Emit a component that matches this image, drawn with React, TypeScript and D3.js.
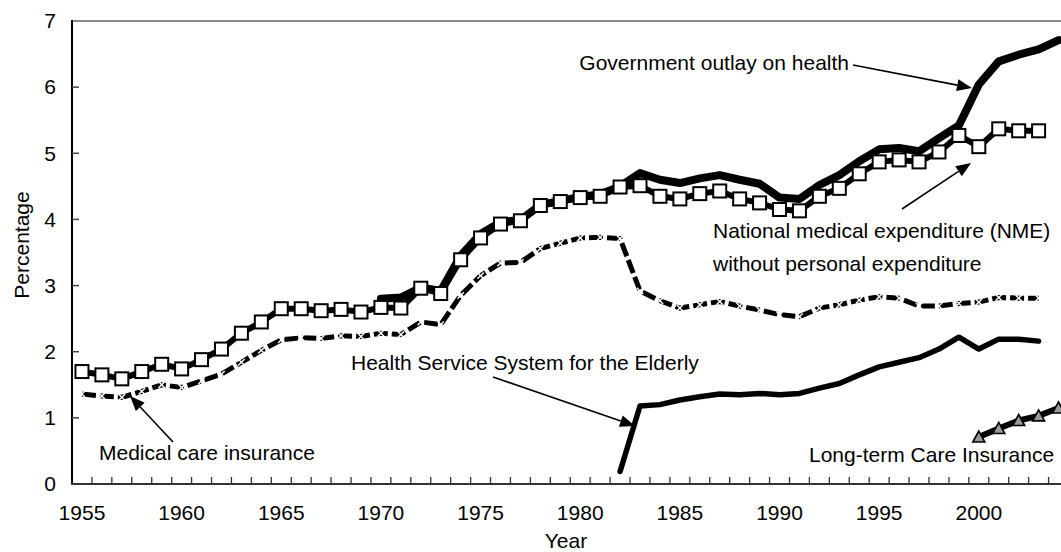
import React from "react";
import * as d3 from "d3";

const years: number[] = [
  1955, 1956, 1957, 1958, 1959, 1960, 1961, 1962, 1963, 1964,
  1965, 1966, 1967, 1968, 1969, 1970, 1971, 1972, 1973, 1974,
  1975, 1976, 1977, 1978, 1979, 1980, 1981, 1982, 1983, 1984,
  1985, 1986, 1987, 1988, 1989, 1990, 1991, 1992, 1993, 1994,
  1995, 1996, 1997, 1998, 1999, 2000, 2001, 2002, 2003, 2004,
];

const tickYears: number[] = [1955, 1960, 1965, 1970, 1975, 1980, 1985, 1990, 1995, 2000];
const yTicks: number[] = [0, 1, 2, 3, 4, 5, 6, 7];

// National medical expenditure without personal expenditure (1955-2003)
const nme: (number | null)[] = [
  1.70, 1.65, 1.59, 1.70, 1.81, 1.74, 1.88, 2.04, 2.28, 2.45,
  2.65, 2.65, 2.62, 2.64, 2.60, 2.67, 2.66, 2.96, 2.88, 3.39,
  3.72, 3.93, 3.98, 4.21, 4.27, 4.33, 4.35, 4.49, 4.51, 4.35,
  4.31, 4.39, 4.43, 4.31, 4.25, 4.15, 4.13, 4.35, 4.47, 4.69,
  4.87, 4.90, 4.87, 5.02, 5.27, 5.10, 5.37, 5.34, 5.34, null,
];

// Government outlay on health (1970-2004)
const gov: (number | null)[] = [
  null, null, null, null, null, null, null, null, null, null,
  null, null, null, null, null, 2.80, 2.82, 2.97, 2.92, 3.45,
  3.78, 3.96, 3.99, 4.22, 4.28, 4.34, 4.38, 4.50, 4.70, 4.60,
  4.55, 4.62, 4.67, 4.60, 4.54, 4.33, 4.31, 4.52, 4.67, 4.88,
  5.06, 5.08, 5.03, 5.23, 5.42, 6.04, 6.39, 6.49, 6.57, 6.71,
];

// Medical care insurance (1955-2003)
const medical: (number | null)[] = [
  1.36, 1.33, 1.31, 1.40, 1.50, 1.46, 1.56, 1.66, 1.84, 2.02,
  2.18, 2.21, 2.20, 2.24, 2.23, 2.28, 2.26, 2.45, 2.41, 2.85,
  3.15, 3.34, 3.35, 3.56, 3.64, 3.72, 3.73, 3.71, 2.92, 2.77,
  2.66, 2.71, 2.76, 2.69, 2.63, 2.56, 2.53, 2.66, 2.71, 2.78,
  2.83, 2.81, 2.69, 2.69, 2.73, 2.75, 2.82, 2.81, 2.81, null,
];

// Health Service System for the Elderly (1982-2003)
const elderly: (number | null)[] = [
  null, null, null, null, null, null, null, null, null, null,
  null, null, null, null, null, null, null, null, null, null,
  null, null, null, null, null, null, null, 0.19, 1.18, 1.20,
  1.27, 1.32, 1.36, 1.35, 1.37, 1.35, 1.37, 1.45, 1.52, 1.65,
  1.77, 1.84, 1.91, 2.04, 2.22, 2.04, 2.19, 2.19, 2.16, null,
];

// Long-term Care Insurance (2000-2004)
const ltc: (number | null)[] = [
  null, null, null, null, null, null, null, null, null, null,
  null, null, null, null, null, null, null, null, null, null,
  null, null, null, null, null, null, null, null, null, null,
  null, null, null, null, null, null, null, null, null, null,
  null, null, null, null, null, 0.71, 0.84, 0.96, 1.03, 1.15,
];

const W = 1061;
const H = 552;
const FONT = "'Liberation Sans', Arial, Helvetica, sans-serif";
const FS = 21;

const left = 72;
const step = 19.93;
const top = 21;
const bottom = 484;

export default function App() {
  const x = d3
    .scaleBand<number>()
    .domain(years)
    .range([left, left + step * years.length])
    .paddingInner(0)
    .paddingOuter(0);
  const cx = (yr: number) => (x(yr) as number) + x.bandwidth() / 2;
  const y = d3.scaleLinear().domain([0, 7]).range([bottom, top]);

  type P = { yr: number; v: number | null };
  const pts = (arr: (number | null)[]): P[] => years.map((yr, i) => ({ yr, v: arr[i] }));
  const line = d3
    .line<P>()
    .defined((d) => d.v != null)
    .x((d) => cx(d.yr))
    .y((d) => y(d.v as number));

  const defined = (arr: (number | null)[]) => pts(arr).filter((d) => d.v != null);

  const arrow = (x1: number, y1: number, x2: number, y2: number, key: string) => {
    const ang = Math.atan2(y2 - y1, x2 - x1);
    const len = 15;
    const wid = 6;
    const bx = x2 - len * Math.cos(ang);
    const by = y2 - len * Math.sin(ang);
    const px = -Math.sin(ang) * wid;
    const py = Math.cos(ang) * wid;
    return (
      <g key={key}>
        <line x1={x1} y1={y1} x2={bx} y2={by} stroke="#000" strokeWidth={1.6} />
        <path d={`M${x2},${y2}L${bx + px},${by + py}L${bx - px},${by - py}Z`} fill="#000" />
      </g>
    );
  };

  const xTickPositions = years.map((yr) => (x(yr) as number) + x.bandwidth());

  return (
    <svg
      width={W}
      height={H}
      style={{ position: "absolute", left: 0, top: 0, background: "#fff" }}
      fontFamily={FONT}
    >
      <rect x={0} y={0} width={W} height={H} fill="#fff" />
      {/* top frame */}
      <line x1={left} y1={top} x2={W} y2={top} stroke="#888" strokeWidth={2} />
      {/* y axis */}
      <line x1={left} y1={top - 1} x2={left} y2={bottom + 1} stroke="#000" strokeWidth={2} />
      {yTicks.map((t) => (
        <g key={"yt" + t}>
          {t > 0 && t < 7 && (
            <line x1={left} x2={left + 7} y1={y(t)} y2={y(t)} stroke="#444" strokeWidth={1.5} />
          )}
          <text x={56} y={y(t)} dy="0.35em" textAnchor="end" fontSize={FS} fill="#000">
            {t}
          </text>
        </g>
      ))}
      {/* x axis */}
      <line x1={left - 1} y1={bottom} x2={W} y2={bottom} stroke="#333" strokeWidth={2} />
      {xTickPositions.map((p, i) => (
        <line key={"xt" + i} x1={p} x2={p} y1={bottom} y2={bottom - 7} stroke="#333" strokeWidth={1.3} />
      ))}
      {tickYears.map((yr) => (
        <text key={"xl" + yr} x={cx(yr)} y={520} textAnchor="middle" fontSize={FS} fill="#000">
          {yr}
        </text>
      ))}
      <text x={566} y={548} textAnchor="middle" fontSize={FS} fill="#000">
        Year
      </text>
      <text
        transform={`translate(29,245) rotate(-90)`}
        textAnchor="middle"
        fontSize={FS}
        fill="#000"
      >
        Percentage
      </text>

      {/* Government outlay on health */}
      <path
        d={line(pts(gov)) || ""}
        fill="none"
        stroke="#000"
        strokeWidth={8}
        strokeLinejoin="round"
        strokeLinecap="round"
      />

      {/* NME */}
      <path
        d={line(pts(nme)) || ""}
        fill="none"
        stroke="#000"
        strokeWidth={6}
        strokeLinejoin="round"
      />
      {defined(nme).map((d) => (
        <rect
          key={"sq" + d.yr}
          x={cx(d.yr) - 6.5}
          y={y(d.v as number) - 6.5}
          width={13}
          height={13}
          fill="#fff"
          stroke="#000"
          strokeWidth={2}
        />
      ))}

      {/* Medical care insurance */}
      <path
        d={line(pts(medical)) || ""}
        fill="none"
        stroke="#000"
        strokeWidth={5}
        strokeDasharray="14 4"
      />
      {defined(medical).map((d) => {
        const px = cx(d.yr);
        const py = y(d.v as number);
        const s = 3.2;
        return (
          <g key={"mx" + d.yr} stroke="#fff" strokeWidth={1.4}>
            <line x1={px - s} y1={py - s} x2={px + s} y2={py + s} />
            <line x1={px - s} y1={py + s} x2={px + s} y2={py - s} />
          </g>
        );
      })}

      {/* Health Service System for the Elderly */}
      <path
        d={line(pts(elderly)) || ""}
        fill="none"
        stroke="#000"
        strokeWidth={5.5}
        strokeLinejoin="round"
        strokeLinecap="round"
      />

      {/* Long-term Care Insurance */}
      <path
        d={line(pts(ltc)) || ""}
        fill="none"
        stroke="#000"
        strokeWidth={6}
        strokeLinejoin="round"
      />
      {defined(ltc).map((d) => {
        const px = cx(d.yr);
        const py = y(d.v as number);
        return (
          <path
            key={"tr" + d.yr}
            d={`M${px},${py - 6}L${px + 6},${py + 5}L${px - 6},${py + 5}Z`}
            fill="#999"
            stroke="#000"
            strokeWidth={1.6}
          />
        );
      })}

      {/* Annotations */}
      <text x={849} y={63} dy="0.35em" textAnchor="end" fontSize={FS} fill="#000">
        Government outlay on health
      </text>
      {arrow(853, 65, 972, 88, "a1")}

      <text x={713} y={231} dy="0.35em" fontSize={FS} fill="#000">
        National medical expenditure (NME)
      </text>
      <text x={713} y={264} dy="0.35em" fontSize={FS} fill="#000">
        without personal expenditure
      </text>
      {arrow(902, 209, 971, 163, "a2")}

      <text x={351} y={363} dy="0.35em" fontSize={FS} fill="#000">
        Health Service System for the Elderly
      </text>
      {arrow(493, 377, 635, 426, "a3")}

      <text x={99} y={453} dy="0.35em" fontSize={FS} fill="#000">
        Medical care insurance
      </text>
      {arrow(173, 442, 130, 396, "a4")}

      <text x={809} y={455} dy="0.35em" fontSize={FS} fill="#000">
        Long-term Care Insurance
      </text>
    </svg>
  );
}
